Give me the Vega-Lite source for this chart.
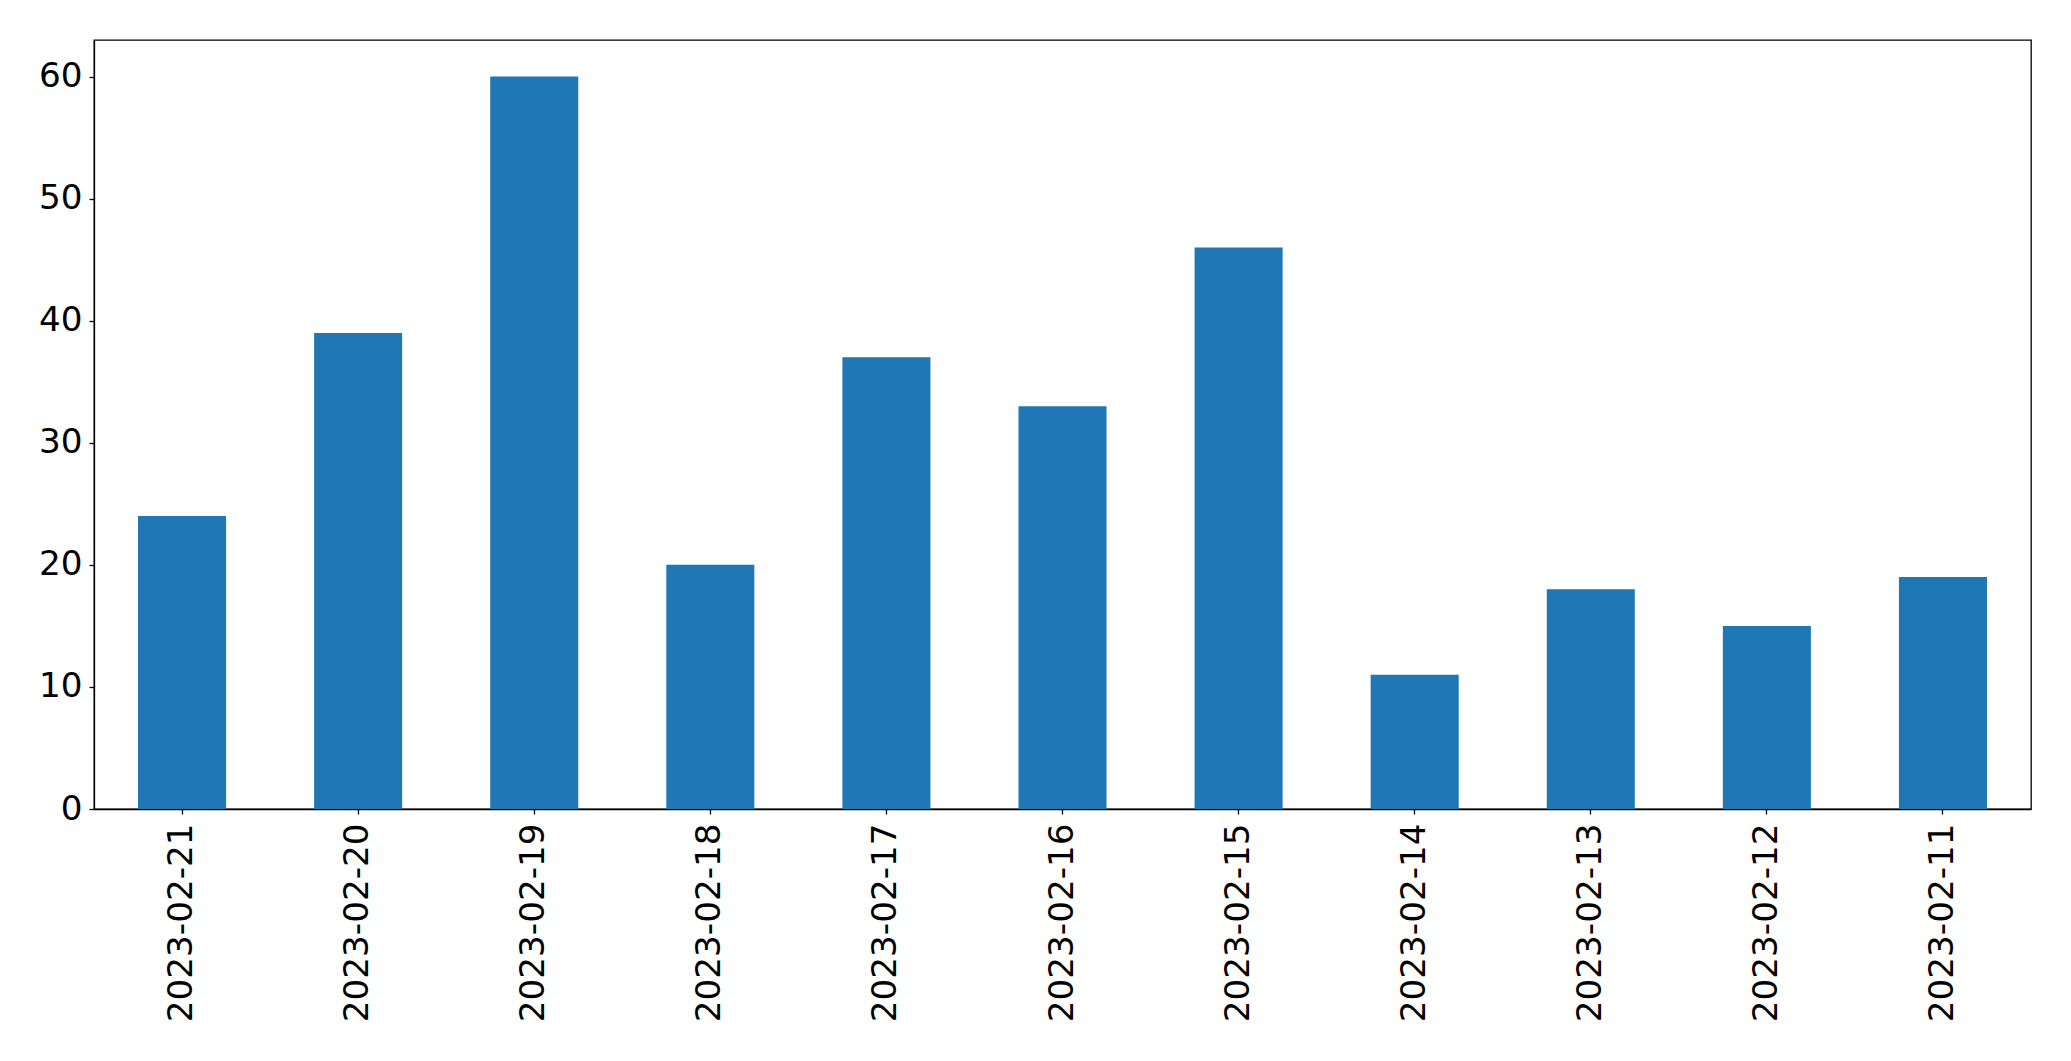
{
  "$schema": "https://vega.github.io/schema/vega-lite/v6.json",
  "autosize": "none",
  "width": 1937,
  "height": 769,
  "padding": {"left": 94, "top": 40, "right": 40, "bottom": 252},
  "background": "white",
  "config": {
    "view": {"stroke": "black", "strokeWidth": 1.3},
    "axis": {"grid": false, "domainColor": "black", "tickColor": "black", "labelColor": "black", "labelFont": "DejaVu Sans", "labelFontSize": 34.2, "labelLimit": 0, "tickSize": 5, "labelPadding": 7, "domainWidth": 1.3, "tickWidth": 1.3}
  },
  "data": {"values": [
    {"date": "2023-02-21", "count": 24},
    {"date": "2023-02-20", "count": 39},
    {"date": "2023-02-19", "count": 60},
    {"date": "2023-02-18", "count": 20},
    {"date": "2023-02-17", "count": 37},
    {"date": "2023-02-16", "count": 33},
    {"date": "2023-02-15", "count": 46},
    {"date": "2023-02-14", "count": 11},
    {"date": "2023-02-13", "count": 18},
    {"date": "2023-02-12", "count": 15},
    {"date": "2023-02-11", "count": 19}
  ]},
  "mark": {"type": "bar", "color": "#1f77b4"},
  "encoding": {
    "x": {"field": "date", "type": "nominal", "sort": null, "title": null,
      "scale": {"paddingInner": 0.5, "paddingOuter": 0.25},
      "axis": {"labelAngle": -90, "labelAlign": "right", "labelBaseline": "middle", "labelPadding": 9}},
    "y": {"field": "count", "type": "quantitative", "title": null,
      "scale": {"domain": [0, 63], "nice": false},
      "axis": {"values": [0, 10, 20, 30, 40, 50, 60]}}
  }
}
